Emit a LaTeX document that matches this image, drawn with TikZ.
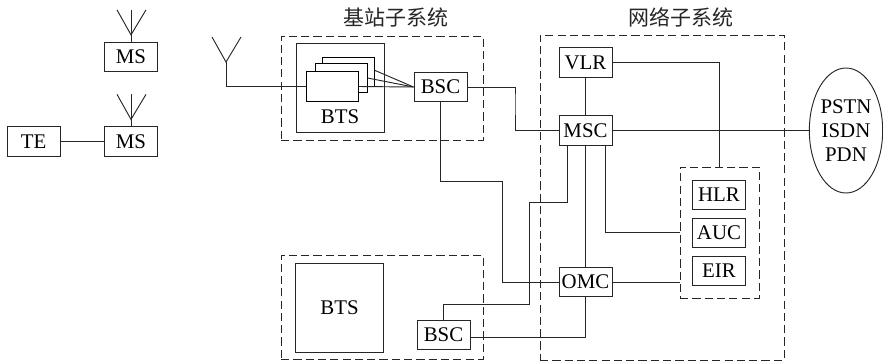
\documentclass[tikz,border=0pt]{standalone}
\usepackage{fontspec}
\setmainfont{Liberation Serif}
\newfontfamily\cjk{Noto Sans CJK SC}
\usetikzlibrary{calc, shapes.geometric}
\begin{document}
\begin{tikzpicture}[
    x=0.03cm, y=-0.03cm,
    font=\fontsize{17.8pt}{20.5pt}\selectfont,
    line width=0.8pt,
    wire/.style={draw=black!85},
    unit/.style={rectangle, draw=black!85, fill=white, minimum width=1.59cm, minimum height=0.88cm, inner sep=0pt},
    btsbox/.style={rectangle, draw=black!85, fill=white, minimum width=2.64cm, minimum height=2.67cm, inner sep=0pt},
    cardbox/.style={rectangle, draw=black, fill=white, minimum width=1.56cm, minimum height=0.88cm, inner sep=0pt},
    groupbox/.style={rectangle, draw=black!85, dash pattern=on 7pt off 3.5pt, inner sep=0pt},
    sectitle/.style={font=\cjk\fontsize{17.9pt}{20pt}\selectfont, text=black!85},
]
\useasboundingbox (0,0) rectangle (883,362);

% dashed groups
\node[groupbox, minimum width=6.06cm, minimum height=3.12cm] (bssa) at (382,88) {};
\node[groupbox, minimum width=6.06cm, minimum height=3.12cm] (bssb) at (382,307) {};
\node[groupbox, minimum width=7.32cm, minimum height=9.75cm] (nss) at (662,197.5) {};
\node[groupbox, minimum width=2.37cm, minimum height=3.93cm] (regs) at (719.5,232.5) {};
\node[sectitle] (titlea) at (396,17) {基站子系统};
\node[sectitle] (titleb) at (681,17) {网络子系统};

% mobile side
\node[unit] (msa) at (131,57) {MS};
\node[unit] (msb) at (131,141.5) {MS};
\node[unit] (te) at (33.5,141.5) {TE};
\draw[wire] (te) -- (msb);
\foreach \n in {msa,msb} {
    \draw[wire] (\n.north) -- ++(0,-32);
    \draw[wire] ($(\n.north)+(-14,-32)$) -- ($(\n.north)+(0,-7)$) -- ($(\n.north)+(15,-32)$);
}

% upper base station
\node[btsbox] (btsouter) at (340,87.5) {};
\node (btslabel) at (340,117) {BTS};
\node[cardbox] (btsc) at (348,72) {};
\node[cardbox] (btsb) at (341,78) {};
\node[cardbox] (btsa) at (332.5,86.5) {};
\node[unit] (bsca) at (440.5,87) {BSC};

% lower base station
\node[btsbox] (btsd) at (339.5,307.5) {BTS};
\node[unit] (bscb) at (443.5,335) {BSC};

% network side
\node[unit] (vlr) at (585.5,62.5) {VLR};
\node[unit] (msc) at (585.5,130.5) {MSC};
\node[unit] (omc) at (585.5,282) {OMC};
\node[unit] (hlr) at (719,195) {HLR};
\node[unit] (auc) at (719,233) {AUC};
\node[unit] (eir) at (719,271) {EIR};
\node[ellipse, draw=black!85, fill=white, minimum width=2.2cm, minimum height=3.75cm, inner sep=0pt, align=center] (pstn) at (846,130.5) {PSTN\\ISDN\\PDN};

% free ends and bends
\coordinate (ant) at (226,62);
\coordinate (antl) at (212,37);
\coordinate (antr) at (241,37);
\coordinate (tapc) at (374,70);
\coordinate (bendm) at (515,100);
\coordinate (bendo) at (502,181);
\coordinate (bendp) at (529,202);
\coordinate (bendq) at (529,304);
\coordinate (tapa) at (567,145);
\coordinate (tapb) at (605,145);
\coordinate (tapd) at (470,337);

% connections
\draw[wire] (antl) -- (ant) -- (antr);
\draw[wire] (ant) |- (btsa.west);
\draw[wire] (tapc) -- (bsca.west);
\draw[wire] (btsb.east) -- (bsca.west);
\draw[wire] (btsa.east) -- (bsca.west);
\draw[wire] (bsca.east) -| (bendm) |- (msc.west);
\draw[wire] (bsca.south) |- (bendo) |- (omc.west);
\draw[wire] (vlr) -- (msc);
\draw[wire] (vlr.east) -| (regs.north);
\draw[wire] (msc.east) -- (pstn.west);
\draw[wire] (msc) -- (omc);
\draw[wire] (tapa) |- (bendp) -- (bendq) -| (bscb.north);
\draw[wire] (tapb) |- (regs.west);
\draw[wire] (omc.east) -- (omc.east -| regs.west);
\draw[wire] (omc.south) |- (tapd);

\end{tikzpicture}
\end{document}
